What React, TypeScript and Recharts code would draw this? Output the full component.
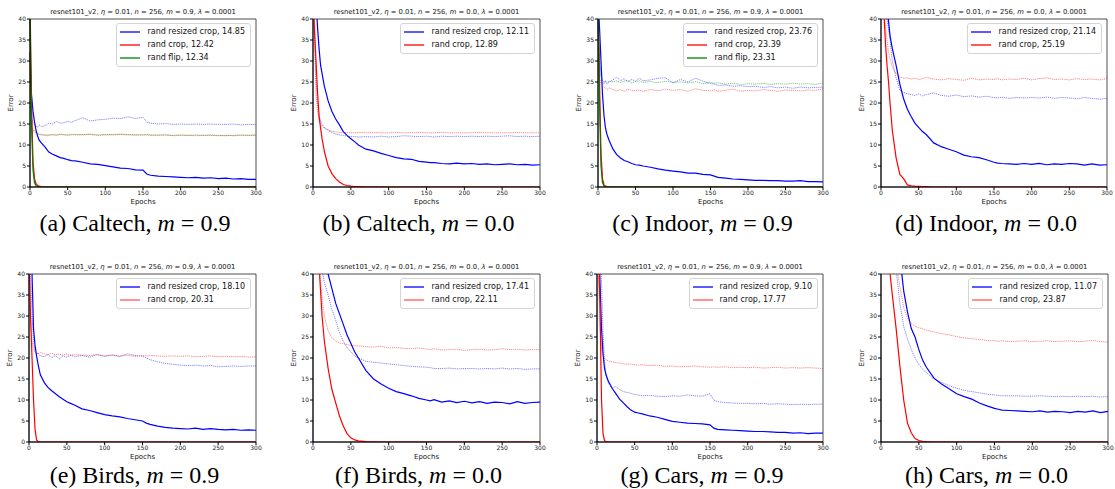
import { LineChart, Line, XAxis, YAxis, ReferenceArea } from 'recharts'

// ─── shared axes ─────────────────────────────────────────────────────────────
const EPOCHS = [0, 2, 4, 6, 8, 10, 12, 15, 20, 25, 30, 35, 40, 45, 50, 55, 60, 70, 80, 90, 100, 110, 120, 130, 140, 150, 155, 160, 170, 180, 190, 200, 210, 220, 230, 240, 250, 260, 270, 280, 290, 300]
const X_TICKS = [0, 50, 100, 150, 200, 250, 300]
const Y_TICKS = [0, 5, 10, 15, 20, 25, 30, 35, 40]

const BLUE = '#0000ff'
const RED = '#ff0000'
const GREEN = '#008000'

// ─── (a) Caltech, m = 0.9 ────────────────────────────────────────────────────
const CAL09_RRC_TRAIN = [32, 22, 18, 15.5, 13.5, 12.2, 11.2, 10.5, 9.5, 8.3, 7.8, 7.4, 7.0, 6.8, 6.5, 6.3, 6.2, 5.9, 5.5, 5.4, 5.1, 4.8, 4.5, 4.4, 4.1, 4.0, 3.1, 2.8, 2.6, 2.5, 2.4, 2.3, 2.2, 2.3, 2.1, 2.2, 2.0, 2.1, 1.9, 2.0, 1.8, 1.8]
const CAL09_RRC_TEST = [20, 16.5, 15.2, 14.8, 14.5, 14.2, 14.8, 14.4, 14.6, 15.2, 15.0, 15.6, 15.2, 15.3, 15.6, 15.4, 15.8, 16.5, 15.7, 16.0, 16.1, 16.4, 16.3, 16.7, 16.3, 16.6, 15.4, 15.2, 15.0, 15.1, 14.9, 15.0, 14.9, 15.0, 14.9, 15.0, 14.9, 14.9, 15.0, 14.8, 14.9, 14.85]
const CAL09_RC_TRAIN = [45, 20, 6, 2, 0.8, 0.4, 0.2, 0.1, 0.05, 0.05, 0.05, 0, 0, 0, 0, 0, 0, 0, 0, 0, 0, 0, 0, 0, 0, 0, 0, 0, 0, 0, 0, 0, 0, 0, 0, 0, 0, 0, 0, 0, 0, 0]
const CAL09_RC_TEST = [30, 14.5, 13.8, 13.3, 13.0, 12.8, 12.6, 12.5, 12.4, 12.3, 12.5, 12.4, 12.6, 12.5, 12.4, 12.6, 12.5, 12.5, 12.6, 12.4, 12.5, 12.5, 12.6, 12.5, 12.5, 12.4, 12.5, 12.4, 12.4, 12.4, 12.3, 12.4, 12.3, 12.4, 12.3, 12.4, 12.3, 12.2, 12.3, 12.4, 12.3, 12.4]
const CAL09_FLIP_TRAIN = [42, 15, 4, 1, 0.3, 0.1, 0.05, 0, 0, 0, 0, 0, 0, 0, 0, 0, 0, 0, 0, 0, 0, 0, 0, 0, 0, 0, 0, 0, 0, 0, 0, 0, 0, 0, 0, 0, 0, 0, 0, 0, 0, 0]
const CAL09_FLIP_TEST = [28, 14, 13.5, 13.0, 12.8, 12.6, 12.5, 12.4, 12.3, 12.4, 12.4, 12.3, 12.5, 12.4, 12.3, 12.4, 12.4, 12.4, 12.5, 12.3, 12.4, 12.4, 12.5, 12.4, 12.3, 12.4, 12.4, 12.3, 12.3, 12.4, 12.2, 12.3, 12.3, 12.2, 12.3, 12.3, 12.2, 12.3, 12.2, 12.3, 12.3, 12.3]
const CAL09_LEGEND = ['rand resized crop, 14.85', 'rand crop, 12.42', 'rand flip, 12.34']

// ─── (b) Caltech, m = 0.0 ────────────────────────────────────────────────────
const CAL00_RRC_TRAIN = [60, 52, 45, 38, 33, 29, 27, 24, 20.5, 18, 16.2, 14.8, 13.2, 12.3, 11.5, 10.8, 10.0, 9.0, 8.6, 8.0, 7.5, 7.0, 6.7, 6.6, 6.1, 5.9, 5.8, 5.8, 5.6, 5.5, 5.7, 5.5, 5.6, 5.4, 5.5, 5.3, 5.4, 5.5, 5.3, 5.4, 5.2, 5.3]
const CAL00_RRC_TEST = [50, 40, 26, 20, 17, 15.8, 15.0, 14.2, 13.5, 13.0, 12.6, 12.4, 12.3, 12.1, 12.0, 12.0, 11.9, 12.0, 11.9, 12.1, 11.9, 12.0, 12.2, 12.1, 12.0, 12.1, 12.0, 11.9, 12.1, 12.0, 12.1, 12.0, 12.1, 12.0, 12.1, 12.0, 12.1, 12.2, 12.0, 12.1, 12.0, 12.1]
const CAL00_RC_TRAIN = [45, 37, 30, 22.5, 17, 14, 11.5, 8.5, 5.0, 3.2, 2.0, 1.2, 0.6, 0.35, 0.2, 0.1, 0.08, 0.05, 0.05, 0.05, 0, 0, 0, 0, 0, 0, 0, 0, 0, 0, 0, 0, 0, 0, 0, 0, 0, 0, 0, 0, 0, 0]
const CAL00_RC_TEST = [50, 36, 22, 18, 16, 15.0, 14.5, 14.0, 13.6, 13.3, 13.1, 13.0, 12.9, 13.0, 12.9, 12.9, 13.0, 12.9, 13.0, 12.9, 12.9, 13.0, 12.9, 12.9, 13.0, 12.9, 12.9, 12.9, 13.0, 12.9, 12.9, 12.9, 12.9, 13.0, 12.9, 12.9, 12.9, 12.9, 13.0, 12.9, 12.9, 12.9]
const CAL00_LEGEND = ['rand resized crop, 12.11', 'rand crop, 12.89']

// ─── (c) Indoor, m = 0.9 ─────────────────────────────────────────────────────
const IND09_RRC_TRAIN = [45, 38, 30, 22, 17, 14, 12.5, 11, 9, 7.7, 6.9, 6.3, 6.0, 5.6, 5.3, 5.2, 5.0, 4.7, 4.3, 4.0, 3.8, 3.6, 3.3, 3.3, 3.0, 2.9, 2.6, 2.3, 2.1, 1.9, 1.8, 1.7, 1.6, 1.6, 1.5, 1.5, 1.4, 1.4, 1.5, 1.3, 1.3, 1.2]
const IND09_RRC_TEST = [40, 30, 27, 25, 24.5, 25.2, 24.5, 25.0, 25.5, 26.2, 25.3, 25.8, 25.0, 25.6, 25.2, 25.9, 25.3, 25.5, 25.9, 26.0, 24.8, 25.6, 25.0, 25.9, 25.2, 24.6, 24.5, 24.2, 24.3, 24.0, 24.1, 23.9, 24.0, 23.7, 23.9, 23.6, 23.8, 23.5, 23.8, 23.6, 23.7, 23.8]
const IND09_RC_TRAIN = [45, 25, 8, 2, 0.5, 0.2, 0.1, 0.05, 0, 0, 0, 0, 0, 0, 0, 0, 0, 0, 0, 0, 0, 0, 0, 0, 0, 0, 0, 0, 0, 0, 0, 0, 0, 0, 0, 0, 0, 0, 0, 0, 0, 0]
const IND09_RC_TEST = [38, 26, 24.5, 24.0, 23.8, 23.5, 23.2, 23.6, 23.2, 22.9, 23.2, 22.8, 23.3, 23.0, 22.9, 23.1, 22.8, 23.2, 22.9, 23.3, 23.0, 23.2, 22.8, 23.4, 23.0, 22.9, 23.1, 22.8, 23.0, 23.3, 22.8, 23.0, 22.9, 23.2, 23.0, 22.8, 23.1, 23.0, 22.9, 23.1, 23.0, 23.4]
const IND09_FLIP_TRAIN = [44, 20, 5, 1, 0.3, 0.1, 0, 0, 0, 0, 0, 0, 0, 0, 0, 0, 0, 0, 0, 0, 0, 0, 0, 0, 0, 0, 0, 0, 0, 0, 0, 0, 0, 0, 0, 0, 0, 0, 0, 0, 0, 0]
const IND09_FLIP_TEST = [38, 28, 26, 25.4, 25.0, 25.3, 24.9, 25.2, 25.0, 25.3, 24.9, 25.2, 25.4, 24.8, 25.1, 25.3, 24.9, 25.1, 24.8, 25.2, 24.9, 25.0, 24.8, 25.1, 24.6, 24.9, 24.7, 24.8, 24.5, 24.7, 24.4, 24.6, 24.5, 24.7, 24.4, 24.6, 24.5, 24.7, 24.5, 24.6, 24.4, 24.8]
const IND09_LEGEND = ['rand resized crop, 23.76', 'rand crop, 23.39', 'rand flip, 23.31']

// ─── (d) Indoor, m = 0.0 ─────────────────────────────────────────────────────
const IND00_RRC_TRAIN = [70, 60, 52, 47, 43, 39.5, 36, 33, 29, 24.5, 21, 18.5, 16.8, 15.2, 14.2, 13.2, 12.5, 10.5, 9.6, 9.0, 8.4, 7.6, 7.2, 7.0, 6.5, 5.9, 5.7, 5.6, 5.5, 5.4, 5.6, 5.4, 5.6, 5.3, 5.5, 5.4, 5.6, 5.5, 5.2, 5.5, 5.2, 5.3]
const IND00_RRC_TEST = [60, 52, 47, 43, 40, 37.5, 35, 30, 26, 23, 22.5, 22.2, 22.0, 21.8, 22.2, 21.7, 22.0, 22.4, 21.8, 21.6, 21.9, 21.5, 21.7, 21.4, 21.6, 21.3, 21.2, 21.4, 21.1, 21.3, 21.2, 21.3, 21.2, 21.4, 21.1, 21.3, 21.2, 21.0, 21.3, 21.1, 20.9, 21.1]
const IND00_RC_TRAIN = [50, 46, 41, 34, 29, 25, 20, 13.5, 7, 3, 2, 0.5, 0.3, 0.2, 0.15, 0.1, 0.08, 0, 0, 0, 0, 0, 0, 0, 0, 0, 0, 0, 0, 0, 0, 0, 0, 0, 0, 0, 0, 0, 0, 0, 0, 0]
const IND00_RC_TEST = [55, 47, 42, 38, 35, 32, 30.5, 28.5, 27.0, 26.2, 25.9, 26.0, 25.7, 25.9, 25.6, 25.8, 26.1, 25.7, 25.5, 25.8, 25.6, 25.4, 25.9, 25.5, 25.7, 25.6, 25.8, 25.5, 25.7, 25.6, 25.9, 25.5, 25.8, 26.0, 25.6, 25.7, 25.5, 25.8, 25.6, 25.7, 25.5, 25.8]
const IND00_LEGEND = ['rand resized crop, 21.14', 'rand crop, 25.19']

// ─── (e) Birds, m = 0.9 ──────────────────────────────────────────────────────
const BRD09_RRC_TRAIN = [60, 50, 40, 27, 23, 20.5, 18.5, 16, 14.2, 13, 12.2, 11.5, 10.8, 10.2, 9.6, 9.2, 8.8, 7.9, 7.5, 7.0, 6.5, 6.2, 6.0, 5.6, 5.3, 5.0, 4.5, 4.2, 3.8, 3.5, 3.3, 3.2, 3.1, 3.3, 3.0, 3.2, 3.0, 2.9, 3.0, 2.8, 2.9, 2.8]
const BRD09_RRC_TEST = [50, 40, 30, 24, 21.5, 20.8, 21.2, 20.5, 20.3, 20.8, 20.1, 20.6, 19.8, 20.5, 20.2, 20.7, 20.3, 20.6, 20.2, 20.8, 20.4, 20.7, 20.3, 21.0, 20.6, 20.4, 20.0, 19.6, 19.1, 18.7, 18.5, 18.3, 18.2, 18.3, 18.1, 18.2, 17.9, 18.0, 18.1, 18.0, 18.1, 18.1]
const BRD09_RC_TRAIN = [45, 30, 20, 10, 3, 0.5, 0.1, 0.05, 0, 0, 0, 0, 0, 0, 0, 0, 0, 0, 0, 0, 0, 0, 0, 0, 0, 0, 0, 0, 0, 0, 0, 0, 0, 0, 0, 0, 0, 0, 0, 0, 0, 0]
const BRD09_RC_TEST = [40, 30, 24, 22, 21.5, 21.2, 21.0, 21.3, 21.0, 20.8, 21.1, 20.8, 20.9, 20.7, 20.9, 20.6, 20.8, 20.7, 20.6, 20.8, 20.5, 20.7, 20.5, 20.6, 20.4, 20.6, 20.5, 20.6, 20.5, 20.4, 20.5, 20.4, 20.5, 20.3, 20.4, 20.5, 20.3, 20.4, 20.3, 20.4, 20.2, 20.3]
const BRD09_LEGEND = ['rand resized crop, 18.10', 'rand crop, 20.31']

// ─── (f) Birds, m = 0.0 ──────────────────────────────────────────────────────
const BRD00_RRC_TRAIN = [80, 75, 70, 65, 60, 55, 50, 45, 40, 36.5, 33, 30.5, 28, 25.5, 23.5, 21.5, 20, 17, 15, 13.8, 12.8, 12.0, 11.5, 11.0, 10.4, 10.0, 9.8, 10.1, 9.5, 9.8, 9.4, 9.7, 9.3, 9.6, 9.2, 9.5, 9.4, 9.1, 9.6, 9.2, 9.4, 9.5]
const BRD00_RRC_TEST = [70, 65, 60, 55, 50, 45, 41, 38, 35, 31.5, 29, 26, 24, 22.5, 21.5, 20.5, 20.0, 19.2, 19.0, 18.8, 18.6, 18.4, 18.2, 18.0, 17.9, 17.8, 17.7, 17.5, 17.5, 17.6, 17.4, 17.5, 17.5, 17.4, 17.5, 17.4, 17.6, 17.4, 17.5, 17.3, 17.4, 17.4]
const BRD00_RC_TRAIN = [60, 55, 50, 46, 42, 36, 30, 24, 17.5, 12.5, 9.3, 6.2, 3.8, 2.0, 1.0, 0.5, 0.25, 0.08, 0.05, 0, 0, 0, 0, 0, 0, 0, 0, 0, 0, 0, 0, 0, 0, 0, 0, 0, 0, 0, 0, 0, 0, 0]
const BRD00_RC_TEST = [60, 55, 50, 46, 42, 38, 34, 30, 26.5, 24.8, 24.0, 23.6, 23.4, 23.2, 23.0, 22.9, 22.9, 22.7, 22.6, 22.8, 22.4, 22.5, 22.3, 22.2, 22.4, 22.1, 22.0, 22.2, 21.9, 22.0, 22.1, 21.8, 22.0, 22.1, 21.9, 22.0, 22.2, 22.0, 22.1, 21.9, 22.0, 22.0]
const BRD00_LEGEND = ['rand resized crop, 17.41', 'rand crop, 22.11']

// ─── (g) Cars, m = 0.9 ───────────────────────────────────────────────────────
const CAR09_RRC_TRAIN = [60, 50, 38, 27, 21, 17.5, 16, 14.5, 12.8, 11.5, 10.2, 9.3, 8.4, 7.6, 7.1, 6.9, 6.7, 6.2, 5.9, 5.4, 4.9, 4.7, 4.5, 4.4, 4.3, 4.1, 3.3, 3.0, 2.9, 2.8, 2.7, 2.6, 2.5, 2.5, 2.4, 2.3, 2.3, 2.1, 2.2, 2.0, 2.1, 2.1]
const CAR09_RRC_TEST = [70, 60, 50, 38, 26, 19, 16, 14.0, 12.8, 13.2, 12.5, 12.0, 11.8, 11.6, 11.3, 11.2, 11.0, 11.1, 10.9, 10.8, 11.0, 10.9, 11.2, 11.0, 10.9, 11.5, 10.0, 9.6, 9.4, 9.3, 9.2, 9.2, 9.1, 9.2, 9.0, 9.1, 9.0, 8.9, 9.0, 8.9, 9.0, 9.0]
const CAR09_RC_TRAIN = [55, 45, 32, 10, 2, 0.3, 0.1, 0.05, 0, 0, 0, 0, 0, 0, 0, 0, 0, 0, 0, 0, 0, 0, 0, 0, 0, 0, 0, 0, 0, 0, 0, 0, 0, 0, 0, 0, 0, 0, 0, 0, 0, 0]
const CAR09_RC_TEST = [50, 40, 28, 22, 20.5, 20.0, 19.6, 19.3, 19.1, 18.9, 18.8, 18.6, 18.5, 18.6, 18.4, 18.3, 18.4, 18.2, 18.3, 18.0, 18.1, 17.9, 18.0, 18.1, 17.9, 17.8, 17.9, 17.8, 17.9, 17.7, 17.8, 17.7, 17.8, 17.6, 17.7, 17.8, 17.6, 17.7, 17.6, 17.7, 17.6, 17.5]
const CAR09_LEGEND = ['rand resized crop, 9.10', 'rand crop, 17.77']

// ─── (h) Cars, m = 0.0 ───────────────────────────────────────────────────────
const CAR00_RRC_TRAIN = [90, 85, 80, 75, 70, 65, 62, 58, 52, 44, 36, 31, 27, 25, 22, 19.5, 17.8, 15.2, 13.8, 12.7, 11.5, 10.8, 10.2, 9.3, 8.6, 8.0, 7.8, 7.6, 7.5, 7.4, 7.3, 7.2, 7.4, 7.1, 7.3, 7.2, 7.0, 7.3, 7.1, 7.4, 7.0, 7.3]
const CAR00_RRC_TEST = [80, 75, 70, 65, 60, 55, 52, 47, 41, 33, 27.5, 24.5, 22, 20, 18.5, 17.3, 16.5, 15.0, 14.2, 13.4, 12.8, 12.3, 12.0, 11.7, 11.4, 11.2, 11.1, 11.0, 11.0, 11.0, 10.9, 10.9, 11.0, 10.9, 10.8, 10.9, 10.8, 10.9, 10.8, 10.9, 10.7, 10.8]
const CAR00_RC_TRAIN = [60, 55, 51, 48, 45, 43, 40, 35, 27, 18, 10, 4.5, 2.2, 0.8, 0.35, 0.15, 0.08, 0, 0, 0, 0, 0, 0, 0, 0, 0, 0, 0, 0, 0, 0, 0, 0, 0, 0, 0, 0, 0, 0, 0, 0, 0]
const CAR00_RC_TEST = [75, 70, 66, 62, 58, 55, 52, 48, 42, 37, 32, 29.5, 28.2, 27.6, 27.2, 27.0, 26.6, 26.2, 25.8, 25.5, 25.1, 24.8, 24.6, 24.4, 24.2, 24.1, 24.0, 24.1, 23.9, 24.0, 24.1, 23.9, 24.0, 24.1, 23.9, 24.0, 24.1, 23.9, 24.0, 24.2, 23.9, 23.8]
const CAR00_LEGEND = ['rand resized crop, 11.07', 'rand crop, 23.87']

// ─── panel setup ─────────────────────────────────────────────────────────────
type Series = { key: string; values: number[]; color: string; dotted: boolean }

function pair(name: string, color: string, train: number[], test: number[]): Series[] {
  return [
    { key: name + 'Test', values: test, color, dotted: true },
    { key: name + 'Train', values: train, color, dotted: false },
  ]
}

const PANELS = [
  { x: 30, y: 19, w: 226, h: 168, capY: 223, label: '(a) Caltech', m: '0.9', legend: CAL09_LEGEND, colors: [BLUE, RED, GREEN],
    series: [...pair('rrc', BLUE, CAL09_RRC_TRAIN, CAL09_RRC_TEST), ...pair('rc', RED, CAL09_RC_TRAIN, CAL09_RC_TEST), ...pair('flip', GREEN, CAL09_FLIP_TRAIN, CAL09_FLIP_TEST)] },
  { x: 313, y: 19, w: 227, h: 168, capY: 223, label: '(b) Caltech', m: '0.0', legend: CAL00_LEGEND, colors: [BLUE, RED],
    series: [...pair('rrc', BLUE, CAL00_RRC_TRAIN, CAL00_RRC_TEST), ...pair('rc', RED, CAL00_RC_TRAIN, CAL00_RC_TEST)] },
  { x: 598, y: 19, w: 225, h: 168, capY: 223, label: '(c) Indoor', m: '0.9', legend: IND09_LEGEND, colors: [BLUE, RED, GREEN],
    series: [...pair('rrc', BLUE, IND09_RRC_TRAIN, IND09_RRC_TEST), ...pair('rc', RED, IND09_RC_TRAIN, IND09_RC_TEST), ...pair('flip', GREEN, IND09_FLIP_TRAIN, IND09_FLIP_TEST)] },
  { x: 881, y: 19, w: 226, h: 168, capY: 223, label: '(d) Indoor', m: '0.0', legend: IND00_LEGEND, colors: [BLUE, RED],
    series: [...pair('rrc', BLUE, IND00_RRC_TRAIN, IND00_RRC_TEST), ...pair('rc', RED, IND00_RC_TRAIN, IND00_RC_TEST)] },
  { x: 29, y: 274, w: 227, h: 168, capY: 475, label: '(e) Birds', m: '0.9', legend: BRD09_LEGEND, colors: [BLUE, RED],
    series: [...pair('rrc', BLUE, BRD09_RRC_TRAIN, BRD09_RRC_TEST), ...pair('rc', RED, BRD09_RC_TRAIN, BRD09_RC_TEST)] },
  { x: 313, y: 274, w: 227, h: 168, capY: 475, label: '(f) Birds', m: '0.0', legend: BRD00_LEGEND, colors: [BLUE, RED],
    series: [...pair('rrc', BLUE, BRD00_RRC_TRAIN, BRD00_RRC_TEST), ...pair('rc', RED, BRD00_RC_TRAIN, BRD00_RC_TEST)] },
  { x: 597, y: 274, w: 226, h: 168, capY: 475, label: '(g) Cars', m: '0.9', legend: CAR09_LEGEND, colors: [BLUE, RED],
    series: [...pair('rrc', BLUE, CAR09_RRC_TRAIN, CAR09_RRC_TEST), ...pair('rc', RED, CAR09_RC_TRAIN, CAR09_RC_TEST)] },
  { x: 881, y: 274, w: 227, h: 168, capY: 475, label: '(h) Cars', m: '0.0', legend: CAR00_LEGEND, colors: [BLUE, RED],
    series: [...pair('rrc', BLUE, CAR00_RRC_TRAIN, CAR00_RRC_TEST), ...pair('rc', RED, CAR00_RC_TRAIN, CAR00_RC_TEST)] },
]

const SANS = '"DejaVu Sans", sans-serif'
const SERIF = '"Liberation Serif", "Times New Roman", serif'
const tickStyle = { fontSize: 6, fill: '#222', fontFamily: SANS }

function Panel({ p }: { p: (typeof PANELS)[number] }) {
  const data = EPOCHS.map((epoch, i) => {
    const row: Record<string, number> = { epoch }
    p.series.forEach((s) => (row[s.key] = s.values[i]))
    return row
  })

  return (
    <>
      {/* title */}
      <div style={{ position: 'absolute', left: p.x, top: p.y - 12, width: p.w, height: 10, lineHeight: '10px', textAlign: 'center', fontSize: 6.8, fontFamily: SANS, color: '#111', whiteSpace: 'nowrap' }}>
        resnet101_v2, <i>η</i> = 0.01, <i>n</i> = 256, <i>m</i> = {p.m}, <i>λ</i> = 0.0001
      </div>

      <div style={{ position: 'absolute', left: p.x - 30, top: p.y - 5 }}>
        <LineChart width={p.w + 40} height={p.h + 25} data={data} margin={{ top: 5, right: 10, left: 0, bottom: 0 }}>
          <XAxis dataKey="epoch" type="number" domain={[0, 300]} ticks={X_TICKS} height={20} tickSize={3} tickMargin={1} tick={tickStyle} stroke="#000" interval={0} />
          <YAxis type="number" domain={[0, 40]} ticks={Y_TICKS} allowDataOverflow width={30} tickSize={3} tickMargin={1} tick={tickStyle} stroke="#000" interval={0} />
          {p.series.map((s) => (
            <Line
              key={s.key}
              dataKey={s.key}
              type="linear"
              stroke={s.color}
              strokeWidth={s.dotted ? 0.9 : 1.2}
              strokeOpacity={s.dotted ? 0.55 : 1}
              strokeDasharray={s.dotted ? '1.2 0.9' : undefined}
              dot={false}
              isAnimationActive={false}
            />
          ))}
          <ReferenceArea x1={0} x2={300} y1={0} y2={40} fill="none" stroke="#222" strokeWidth={0.8} />
        </LineChart>
      </div>

      {/* legend */}
      <div style={{ position: 'absolute', right: 1115 - (p.x + p.w) + 5, top: p.y + 4, border: '1px solid #d4d4d4', borderRadius: 3, background: 'rgba(255,255,255,0.85)', padding: '1px 5px 1px 3px' }}>
        {p.legend.map((text, i) => (
          <div key={text} style={{ display: 'flex', alignItems: 'center', height: 13.3 }}>
            <svg width={20} height={4} style={{ marginRight: 7, display: 'block' }}>
              <line x1={0} y1={2} x2={20} y2={2} stroke={p.colors[i]} strokeWidth={1.3} strokeOpacity={p.y > 200 && i > 0 ? 0.65 : 1} />
            </svg>
            <span style={{ fontSize: 8, fontFamily: SANS, color: '#111', whiteSpace: 'nowrap', lineHeight: '10px' }}>{text}</span>
          </div>
        ))}
      </div>

      {/* axis titles */}
      <div style={{ position: 'absolute', left: p.x - 19, top: p.y + p.h / 2, transform: 'translate(-50%, -50%) rotate(-90deg)', fontSize: 7, lineHeight: '8px', fontFamily: SANS, color: '#111' }}>Error</div>
      <div style={{ position: 'absolute', left: p.x + p.w / 2, top: p.y + p.h + 15, transform: 'translate(-50%, -50%)', fontSize: 7, lineHeight: '7px', fontFamily: SANS, color: '#111' }}>Epochs</div>

      {/* caption */}
      <div style={{ position: 'absolute', left: p.x + p.w / 2 - 8, top: p.capY, transform: 'translate(-50%, -50%)', fontSize: 24, lineHeight: '20px', fontFamily: SERIF, color: '#000', whiteSpace: 'nowrap' }}>
        {p.label}, <i>m</i> = {p.m}
      </div>
    </>
  )
}

export default function App() {
  return (
    <div style={{ position: 'absolute', left: 0, top: 0, width: 1115, height: 489, background: '#fff', overflow: 'hidden' }}>
      {PANELS.map((p) => (
        <Panel key={p.label} p={p} />
      ))}
    </div>
  )
}
